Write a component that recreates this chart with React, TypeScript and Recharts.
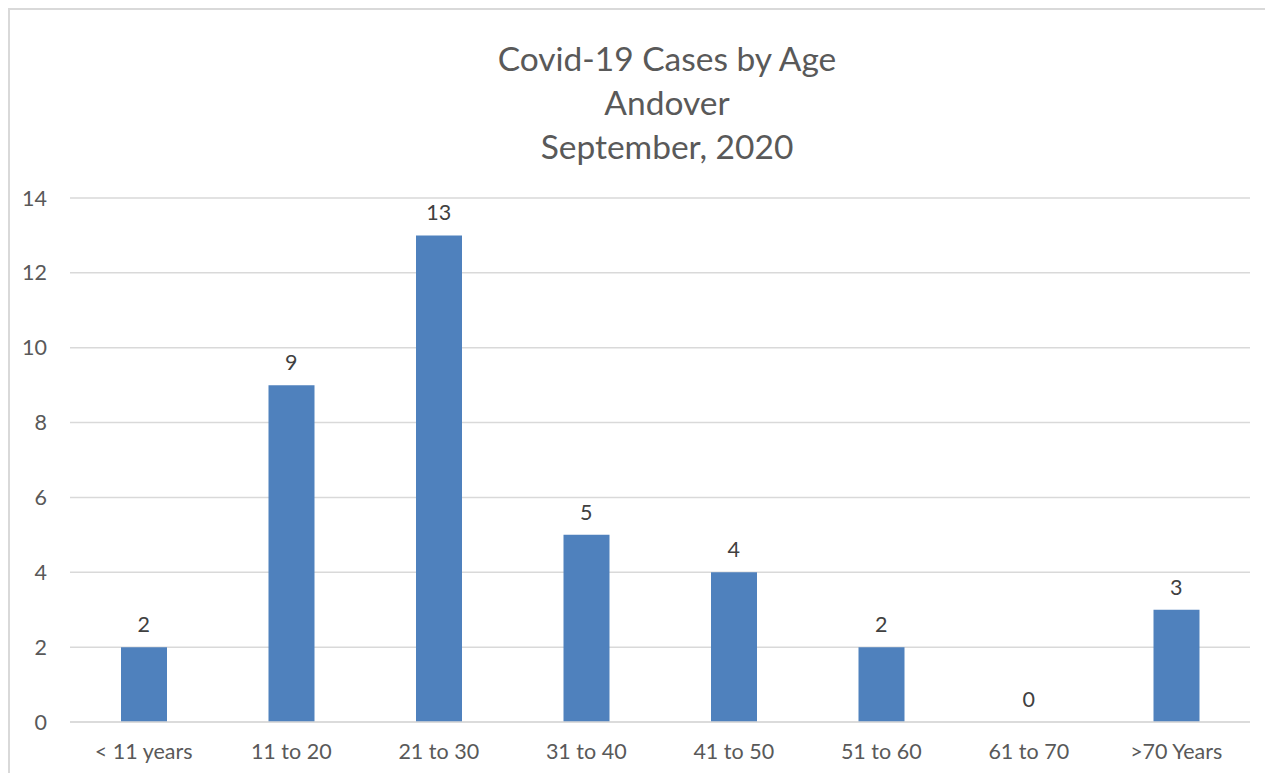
import { ComposedChart, Bar, Line, XAxis, YAxis, CartesianGrid, LabelList } from 'recharts';

const ageGroups = ['< 11 years', '11 to 20', '21 to 30', '31 to 40', '41 to 50', '51 to 60', '61 to 70', '>70 Years'];
const caseCounts = [2, 9, 13, 5, 4, 2, 0, 3];
const yTicks = [0, 2, 4, 6, 8, 10, 12, 14];
const titleLines = ['Covid-19 Cases by Age', 'Andover', 'September, 2020'];

const FONT = 'Lato, "Open Sans", sans-serif';
const TEXT = '#595959';
const GRID = '#d9d9d9';

const chartData = ageGroups.map((name, i) => ({ name, cases: caseCounts[i] }));

const App = () => {
	return (
		<div style={{ position: 'relative', width: 1257, height: 765, overflow: 'hidden', fontFamily: FONT }}>
			<div style={{ position: 'absolute', left: -3, top: 28, width: 1324, textAlign: 'center', color: TEXT, fontSize: 33.5, lineHeight: '44px' }}>
				{titleLines.map(line => (
					<div key={line}>{line}</div>
				))}
			</div>
			<div style={{ position: 'absolute', left: -3, top: 0 }}>
				<ComposedChart width={1260} height={765} data={chartData} margin={{ top: 190, right: 15, left: 25, bottom: 0 }}>
					<CartesianGrid vertical={false} stroke={GRID} strokeWidth={1.5} />
					<XAxis
						dataKey="name"
						height={51}
						axisLine={{ stroke: GRID, strokeWidth: 1.5 }}
						tickLine={false}
						tickMargin={16}
						tick={{ fill: TEXT, fontSize: 21.5, fontFamily: FONT }}
						interval={0}
					/>
					<YAxis
						width={40}
						domain={[0, 14]}
						ticks={yTicks}
						axisLine={false}
						tickLine={false}
						tickMargin={17}
						tick={{ fill: TEXT, fontSize: 21.5, fontFamily: FONT }}
					/>
					<Bar dataKey="cases" fill="#4f81bd" barSize={46} isAnimationActive={false} />
					<Line dataKey="cases" stroke="none" dot={false} activeDot={false} isAnimationActive={false}>
						<LabelList dataKey="cases" position="top" offset={15} fill="#404040" fontSize={21.5} fontFamily={FONT} />
					</Line>
				</ComposedChart>
			</div>
			{/* chart frame: only the top and left edges fall inside the picture */}
			<div style={{ position: 'absolute', zIndex: 5, left: 0, top: 0, width: 1257, height: 2, background: GRID }} />
			<div style={{ position: 'absolute', zIndex: 5, left: 0, top: 0, width: 2, height: 765, background: GRID }} />
		</div>
	);
};

export default App;
